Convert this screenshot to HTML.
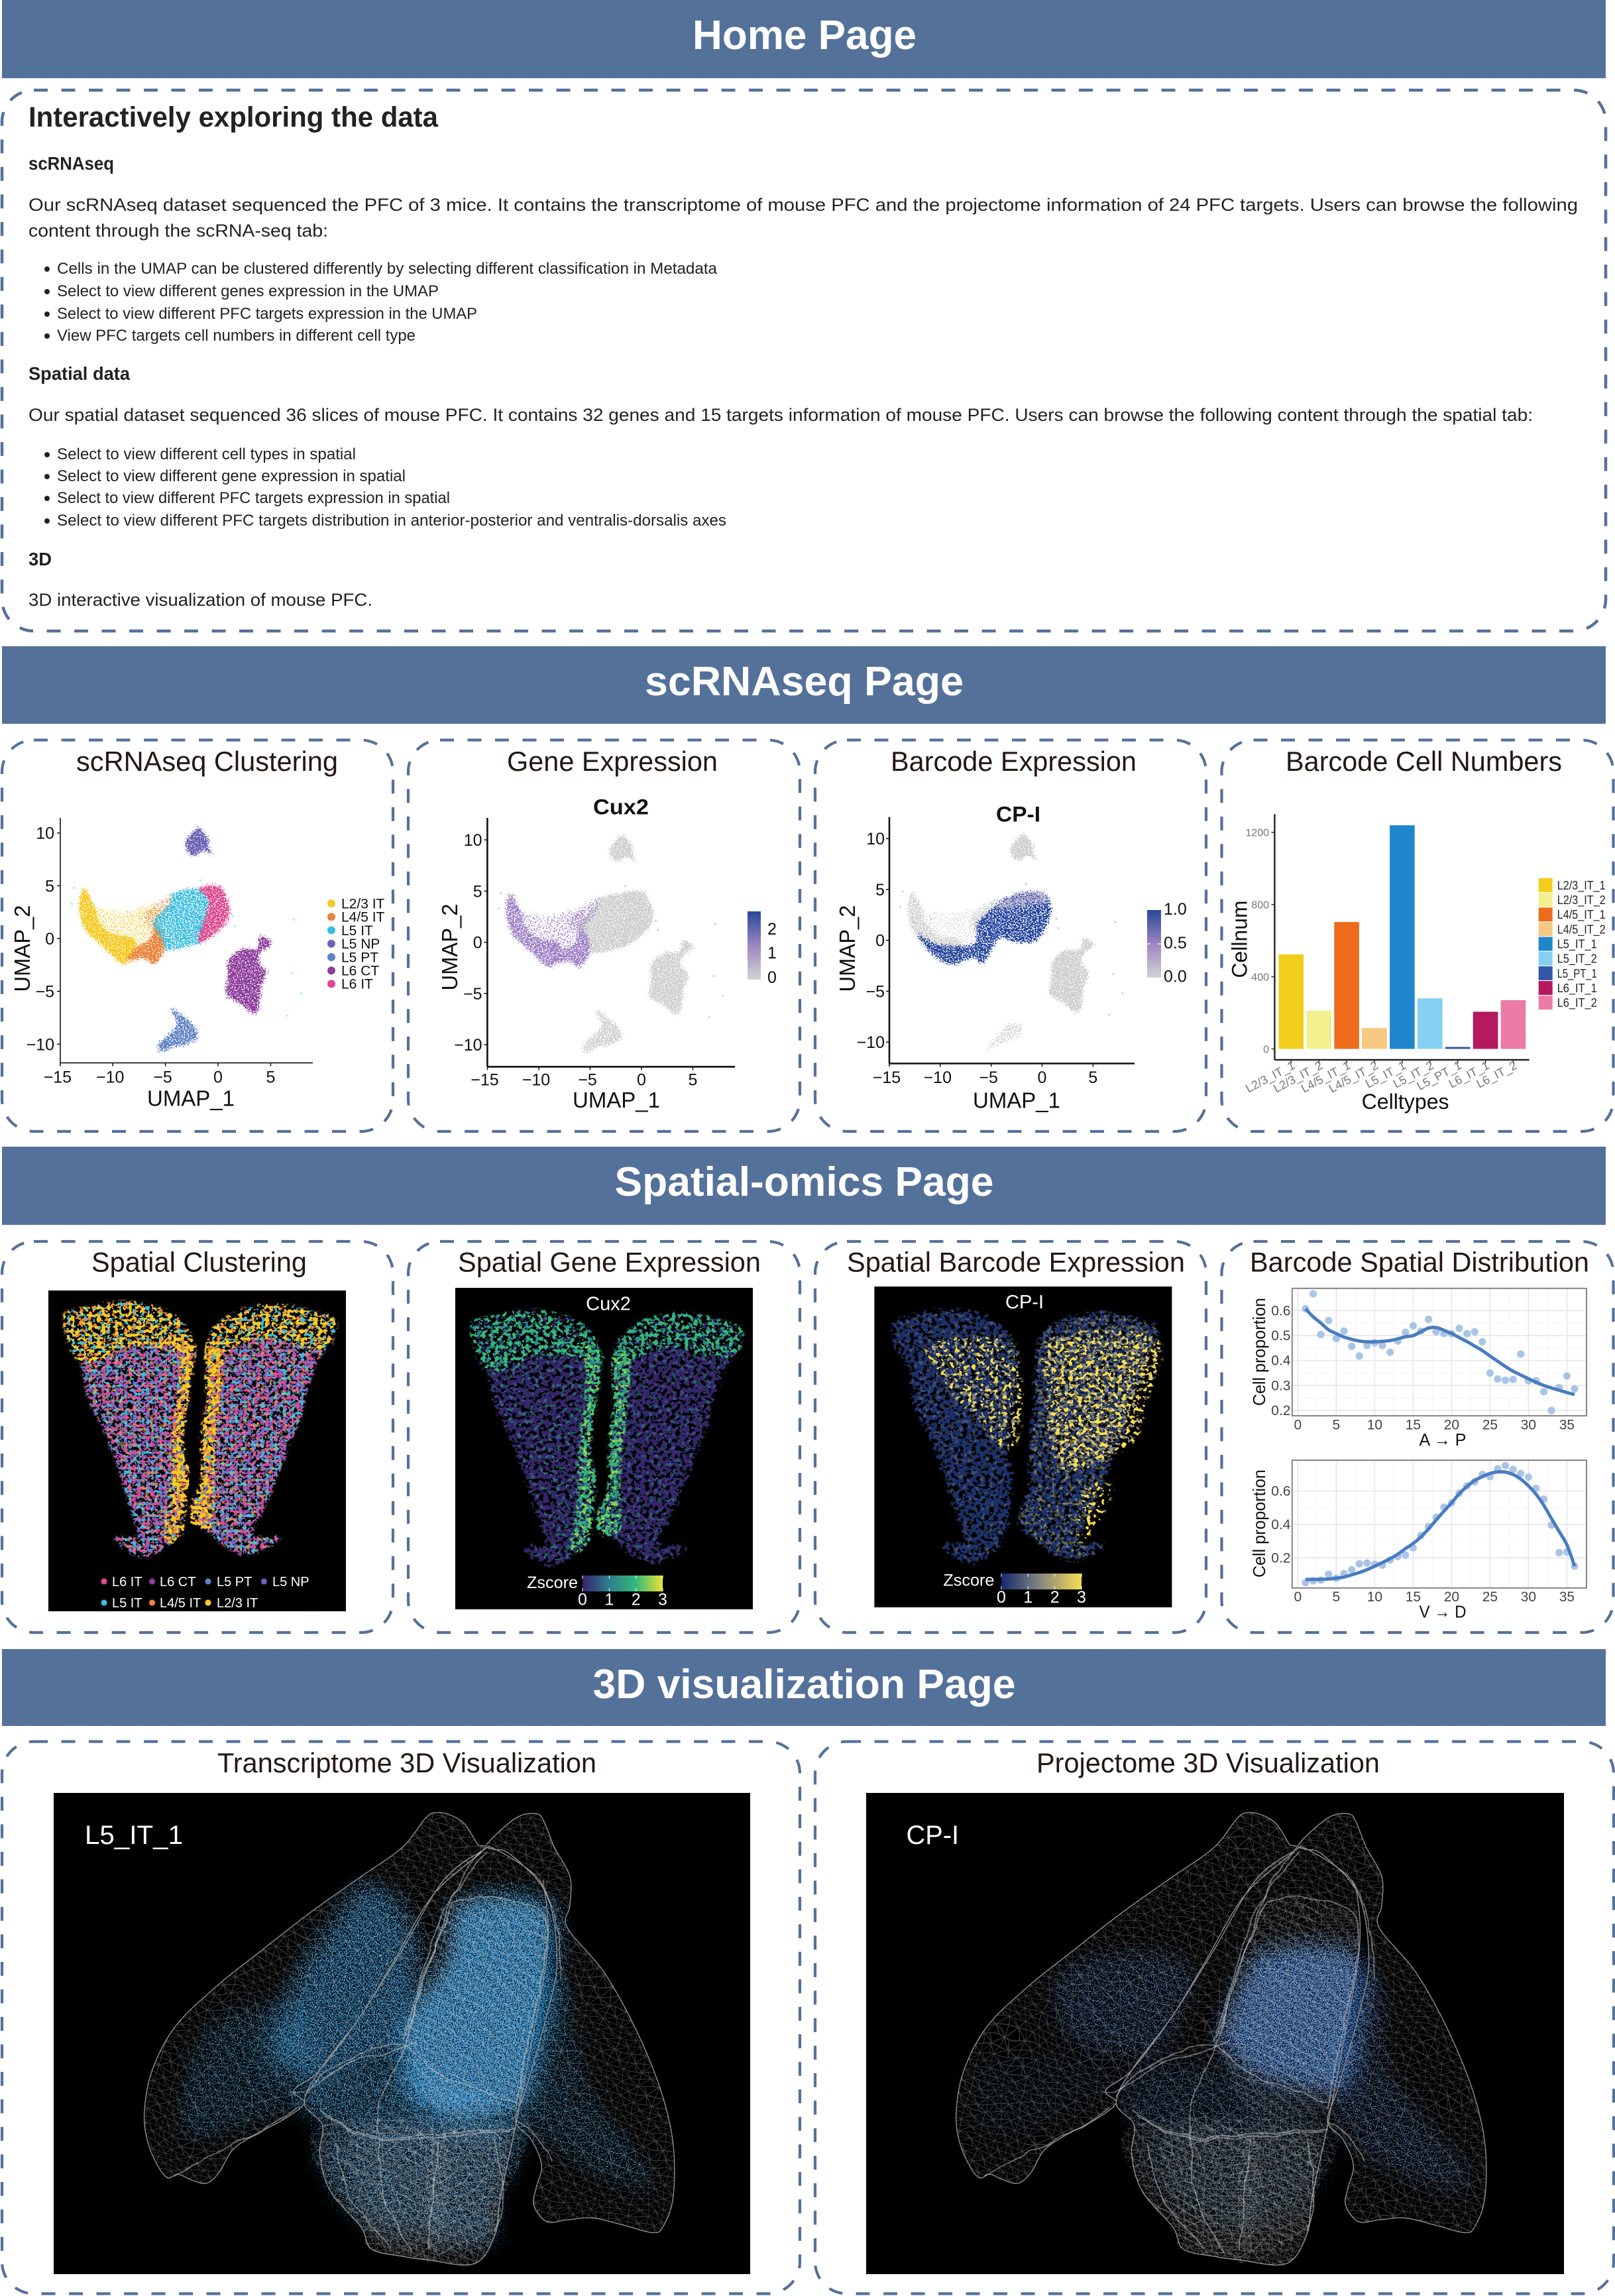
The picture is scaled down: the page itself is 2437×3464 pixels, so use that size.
<!DOCTYPE html>
<html lang="en"><head><meta charset="utf-8"><title>PFC data portal overview</title>
<style>
html,body{margin:0;padding:0;background:#fff}
svg{display:block;font-family:"Liberation Sans",sans-serif}
</style></head>
<body>
<svg id="fig" xmlns="http://www.w3.org/2000/svg" width="2437" height="3464" viewBox="0 0 2437 3464">
<defs id="defs">
<linearGradient id="cbGene" x1="0" y1="1" x2="0" y2="0"><stop offset="0" stop-color="#d3d3d3"/><stop offset=".5" stop-color="#9d86c0"/><stop offset="1" stop-color="#27479c"/></linearGradient>
<linearGradient id="cbViridis" x1="0" x2="1" y1="0" y2="0"><stop offset="0" stop-color="#3b1f6e"/><stop offset=".33" stop-color="#2b7f8e"/><stop offset=".66" stop-color="#35b779"/><stop offset="1" stop-color="#e8e337"/></linearGradient>
<linearGradient id="cbCividis" x1="0" x2="1" y1="0" y2="0"><stop offset="0" stop-color="#12286e"/><stop offset=".5" stop-color="#8a8a80"/><stop offset="1" stop-color="#f5dc50"/></linearGradient>
<filter id="soft" x="-30%" y="-30%" width="160%" height="160%"><feGaussianBlur stdDeviation="16"/></filter>
<filter id="warp" x="-5%" y="-5%" width="110%" height="110%" color-interpolation-filters="sRGB"><feTurbulence type="fractalNoise" baseFrequency="0.012" numOctaves="2" seed="7" result="w"/><feDisplacementMap in="SourceGraphic" in2="w" scale="38" xChannelSelector="R" yChannelSelector="G"/></filter>
<filter id="wobble" x="-10%" y="-10%" width="120%" height="120%" color-interpolation-filters="sRGB"><feTurbulence type="fractalNoise" baseFrequency="0.03" numOctaves="2" seed="4" result="w"/><feDisplacementMap in="SourceGraphic" in2="w" scale="9" xChannelSelector="R" yChannelSelector="G"/></filter>
<pattern id="mesh" width="26" height="22" patternUnits="userSpaceOnUse" patternTransform="rotate(14)">
<path d="M0 0H26M0 11H26M0 22H26M0 0L13 11L26 0M0 22L13 11L26 22M0 0V22M26 0V22M13 11L19 22M13 11L7 0" fill="none" stroke="#fff" stroke-opacity=".24" stroke-width=".9"/></pattern>
</defs>

<g>
<rect x="3" y="0" width="2420" height="118" fill="#54719a"/>
<text x="1214" y="74" font-size="62" font-weight="700" fill="#fff" text-anchor="middle" textLength="338" lengthAdjust="spacingAndGlyphs">Home Page</text></g>
<rect x="3" y="136" width="2420" height="816" rx="48" fill="none" stroke="#54719a" stroke-width="4.5" stroke-dasharray="21 20.5"/>
<g fill="#222">
<text x="43" y="191" font-size="43" font-weight="700" textLength="618" lengthAdjust="spacingAndGlyphs">Interactively exploring the data</text>
<text x="43" y="256" font-size="28" font-weight="700" textLength="129" lengthAdjust="spacingAndGlyphs">scRNAseq</text>
<text x="43" y="318" font-size="27" textLength="2338" lengthAdjust="spacingAndGlyphs">Our scRNAseq dataset sequenced the PFC of 3 mice. It contains the transcriptome of mouse PFC and the projectome information of 24 PFC targets. Users can browse the following</text>
<text x="43" y="357" font-size="27" textLength="452" lengthAdjust="spacingAndGlyphs">content through the scRNA-seq tab:</text>
<circle cx="71" cy="406" r="4"/><text x="86" y="413" font-size="24" textLength="996" lengthAdjust="spacingAndGlyphs">Cells in the UMAP can be clustered differently by selecting different classification in Metadata</text>
<circle cx="71" cy="440" r="4"/><text x="86" y="447" font-size="24" textLength="576" lengthAdjust="spacingAndGlyphs">Select to view different genes expression in the UMAP</text>
<circle cx="71" cy="474" r="4"/><text x="86" y="481" font-size="24" textLength="634" lengthAdjust="spacingAndGlyphs">Select to view different PFC targets expression in the UMAP</text>
<circle cx="71" cy="507" r="4"/><text x="86" y="514" font-size="24" textLength="541" lengthAdjust="spacingAndGlyphs">View PFC targets cell numbers in different cell type</text>
<text x="43" y="573" font-size="28" font-weight="700" textLength="153" lengthAdjust="spacingAndGlyphs">Spatial data</text>
<text x="43" y="635" font-size="27" textLength="2270" lengthAdjust="spacingAndGlyphs">Our spatial dataset sequenced 36 slices of mouse PFC. It contains 32 genes and 15 targets information of mouse PFC. Users can browse the following content through the spatial tab:</text>
<circle cx="71" cy="686" r="4"/><text x="86" y="693" font-size="24" textLength="451" lengthAdjust="spacingAndGlyphs">Select to view different cell types in spatial</text>
<circle cx="71" cy="719" r="4"/><text x="86" y="726" font-size="24" textLength="526" lengthAdjust="spacingAndGlyphs">Select to view different gene expression in spatial</text>
<circle cx="71" cy="752" r="4"/><text x="86" y="759" font-size="24" textLength="593" lengthAdjust="spacingAndGlyphs">Select to view different PFC targets expression in spatial</text>
<circle cx="71" cy="786" r="4"/><text x="86" y="793" font-size="24" textLength="1010" lengthAdjust="spacingAndGlyphs">Select to view different PFC targets distribution in anterior-posterior and ventralis-dorsalis axes</text>
<text x="43" y="853" font-size="28" font-weight="700" textLength="35" lengthAdjust="spacingAndGlyphs">3D</text>
<text x="43" y="914" font-size="27" textLength="519" lengthAdjust="spacingAndGlyphs">3D interactive visualization of mouse PFC.</text>
</g>

<rect x="3" y="975" width="2420" height="117" fill="#54719a"/>
<text x="1213.5" y="1049" font-size="62" font-weight="700" fill="#fff" text-anchor="middle" textLength="481" lengthAdjust="spacingAndGlyphs">scRNAseq Page</text>
<rect x="3" y="1730" width="2420" height="118" fill="#54719a"/>
<text x="1213.5" y="1804" font-size="62" font-weight="700" fill="#fff" text-anchor="middle" textLength="572" lengthAdjust="spacingAndGlyphs">Spatial-omics Page</text>
<rect x="3" y="2488" width="2420" height="116" fill="#54719a"/>
<text x="1213.5" y="2562" font-size="62" font-weight="700" fill="#fff" text-anchor="middle" textLength="638" lengthAdjust="spacingAndGlyphs">3D visualization Page</text>

<g fill="none" stroke="#54719a" stroke-width="4.2" stroke-dasharray="21 20.5">
<rect x="3" y="1116.5" width="590" height="590.5" rx="48"/>
<rect x="616" y="1116.5" width="591" height="590.5" rx="48"/>
<rect x="1230" y="1116.5" width="590" height="590.5" rx="48"/>
<rect x="1843.5" y="1116.5" width="591" height="590.5" rx="48"/>
<rect x="3" y="1873" width="590" height="590" rx="48"/>
<rect x="616" y="1873" width="591" height="590" rx="48"/>
<rect x="1230" y="1873" width="590" height="590" rx="48"/>
<rect x="1843.5" y="1873" width="591" height="590" rx="48"/>
<rect x="3" y="2627.5" width="1204" height="833" rx="48"/>
<rect x="1230" y="2627.5" width="1205" height="833" rx="48"/>
</g>

<g fill="#231815" font-size="42">
<text x="115" y="1163" textLength="395" lengthAdjust="spacingAndGlyphs">scRNAseq Clustering</text>
<text x="765" y="1163" textLength="318" lengthAdjust="spacingAndGlyphs">Gene Expression</text>
<text x="1344" y="1163" textLength="371" lengthAdjust="spacingAndGlyphs">Barcode Expression</text>
<text x="1940" y="1163" textLength="417" lengthAdjust="spacingAndGlyphs">Barcode Cell Numbers</text>
<text x="138" y="1918.5" textLength="325" lengthAdjust="spacingAndGlyphs">Spatial Clustering</text>
<text x="691" y="1918.5" textLength="457" lengthAdjust="spacingAndGlyphs">Spatial Gene Expression</text>
<text x="1278" y="1918.5" textLength="510" lengthAdjust="spacingAndGlyphs">Spatial Barcode Expression</text>
<text x="1886" y="1918.5" textLength="512" lengthAdjust="spacingAndGlyphs">Barcode Spatial Distribution</text>
<text x="328" y="2674" textLength="572" lengthAdjust="spacingAndGlyphs">Transcriptome 3D Visualization</text>
<text x="1564" y="2674" textLength="518" lengthAdjust="spacingAndGlyphs">Projectome 3D Visualization</text>
</g>
<g id="charts"></g>
</svg>
<script>
/* ---------- UMAP tick labels ---------- */
const umapTicksX = [-15, -10, -5, 0, 5];
const umapTicksY = [-10, -5, 0, 5, 10];
/* ---------- UMAP cluster outlines (UMAP_1, UMAP_2) ---------- */
const l23Dense = [[-12.75,4.8],[-11.67,2.9],[-11.4,1.85],[-10.2,.55],[-8,0],[-7.9,-1.3],[-9,-2.45],[-11,-.75],[-12.6,.8],[-13.2,2.9]];
const l23Sparse = [[-11.67,2.9],[-9,2.6],[-6,3.15],[-5.5,1.3],[-6.5,.3],[-7.9,-1.3],[-10.2,.55],[-11.4,1.85]];
const l45Dense = [[-6,1.2],[-5.2,.55],[-5.05,-1],[-6,-2.45],[-7,-1.95],[-8.7,-2],[-7.6,-.75],[-6.5,0]];
const l45Sparse = [[-7,2.35],[-4.55,4.15],[-4.3,3.15],[-6,1.07],[-6.75,1.3]];
const l5it = [[-4.3,4.3],[-1.86,4.76],[-.8,3.4],[-1.5,.3],[-1.8,-.45],[-4.8,-1.1],[-5.3,-.2],[-6.1,1.07],[-6.1,1.85],[-4.6,3.4]];
const l6it = [[-1.86,4.76],[.1,5],[.8,3.9],[1.18,2.6],[.45,1.07],[-1.6,-.4],[-1.86,.3],[-.9,3.4]];
const l5np = [[-1.86,10.5],[-.9,9.4],[-.9,8.75],[-.55,7.9],[-1.4,8.3],[-2.35,7.8],[-2.95,8.35],[-3.1,9.15],[-2.5,9.9]];
const l5pt = [[-4.35,-6.6],[-3.2,-7.4],[-2.25,-8.3],[-1.9,-9.35],[-3.1,-10.1],[-4,-10.2],[-5.5,-10.8],[-5.6,-9.9],[-4.4,-8.8],[-3.9,-8.05],[-4.3,-7.15]];
const l6ct = [[5.1,-.45],[4,.25],[3.7,-.9],[2.3,-.97],[1,-2.05],[.9,-3.9],[.75,-5.3],[2,-6.1],[3.3,-7.1],[3.9,-6.5],[4.1,-4.65],[4.6,-3.2],[3.9,-2.3],[4.1,-1.3]];
const strayCells = [[-13.7,4.8],[-1.6,5.5],[1.4,2.1],[1.6,1.2],[7.2,1.8],[7,-3.3],[7.9,-5.2],[6.6,-7.3],[-10.9,2.1],[-13.9,3.3]];
const cpiDense = [[-12.3,.73],[-10.3,-.35],[-6.8,-.35],[-6.3,1.8],[-4.2,3.7],[-2.7,4.5],[0,4.65],[.9,2.9],[-.45,.05],[-2.7,-.2],[-4.2,.2],[-5.75,-2.25],[-6.8,-1.7],[-8.8,-2.4],[-10.8,-1.4]];
const cpiFaint = [[-4.6,3.4],[-2.7,4.5],[0,4.85],[.6,3.7],[-1,3.6],[-3,3.1]];
const l5ptFaint = [[-3.5,-8.3],[-2.2,-8.2],[-2,-9.3],[-3.6,-10],[-5.4,-10.7],[-4.6,-9.6]];
/* ---------- UMAP legend ---------- */
const clusterNames = ['L2/3 IT','L4/5 IT','L5 IT','L5 NP','L5 PT','L6 CT','L6 IT'];
const clusterColors = ['#f5ca24','#ec843c','#38bde0','#6b63b5','#5f80c4','#8e3f9b','#e0488f'];
/* ---------- Barcode cell number bars ---------- */
const barCategories = ['L2/3_IT_1','L2/3_IT_2','L4/5_IT_1','L4/5_IT_2','L5_IT_1','L5_IT_2','L5_PT_1','L6_IT_1','L6_IT_2'];
const barValues = [524,212,703,116,1239,280,11,206,270];
const barColors = ['#f2ce1c','#f3f08f','#ee6b1c','#f7c882','#2086cc','#84cff2','#3357a8','#b51a5e','#ec7ba6'];
const barTicks = [0,400,800,1200];
/* ---------- Spatial distribution, slices 1..36 ---------- */
const sliceTicks = [0,5,10,15,20,25,30,35];
const apTicks = [.2,.3,.4,.5,.6];
const vdTicks = [.2,.4,.6];
const apPoints = [.607,.667,.504,.56,.488,.518,.457,.418,.46,.471,.46,.433,.478,.513,.539,.518,.565,.515,.508,.508,.529,.508,.515,.475,.35,.326,.321,.324,.426,.319,.319,.275,.2,.292,.338,.287];
const apCurve = [.607,.575,.55,.523,.508,.494,.485,.478,.475,.475,.477,.48,.487,.495,.5,.515,.53,.532,.521,.508,.492,.476,.458,.44,.418,.397,.376,.357,.342,.327,.313,.3,.29,.281,.272,.264];
const vdPoints = [.051,.062,.067,.101,.078,.106,.129,.164,.169,.161,.156,.187,.208,.216,.26,.333,.388,.443,.503,.529,.587,.631,.655,.699,.686,.733,.752,.729,.705,.683,.616,.551,.396,.231,.235,.15];
const vdCurve = [.07,.071,.071,.073,.078,.085,.098,.112,.129,.15,.172,.195,.222,.255,.286,.325,.373,.427,.479,.529,.584,.627,.663,.686,.705,.714,.713,.699,.671,.631,.58,.514,.435,.357,.278,.15];
/* ---------- Tissue slice regions, in slice coordinates ---------- */
const wingLeft = [[130,330],[160,295],[245,270],[310,295],[350,350],[368,420],[368,530],[360,650],[350,800],[360,900],[355,1030],[345,1140],[310,1210],[280,1235],[250,1210],[225,1165],[270,1160],[265,1110],[235,930],[205,760],[175,640],[165,560],[160,490],[135,400]];
const wingRight = [[415,380],[440,330],[480,295],[540,280],[610,310],[645,345],[630,430],[610,510],[590,620],[585,690],[560,800],[550,860],[520,1010],[495,1110],[490,1160],[540,1165],[510,1205],[470,1225],[435,1190],[420,1165],[380,1100],[375,1040],[395,950],[395,800],[400,700],[405,640],[405,500]];
const interiorLeft = [[160,490],[200,480],[250,430],[368,440],[368,530],[360,650],[350,800],[360,900],[355,1030],[345,1140],[310,1210],[280,1235],[250,1210],[225,1165],[270,1160],[265,1110],[235,930],[205,760],[175,640],[165,560]];
const interiorRight = [[405,470],[440,450],[500,400],[600,440],[630,430],[610,510],[590,620],[585,690],[560,800],[550,860],[520,1010],[495,1110],[490,1160],[540,1165],[510,1205],[470,1225],[435,1190],[420,1165],[380,1100],[375,1040],[395,950],[395,800],[400,700],[405,640]];
const topBandLeft = [[125,325],[160,290],[245,265],[310,290],[355,345],[372,420],[372,450],[250,430],[200,490],[150,480]];
const topBandRight = [[410,380],[440,325],[480,290],[540,275],[610,305],[650,340],[635,440],[600,440],[500,400],[440,450],[402,480]];
const medialLeft = [[340,400],[372,420],[372,530],[364,650],[354,800],[364,900],[359,1030],[350,1150],[320,1170],[332,1000],[335,800],[344,650],[350,500]];
const medialRight = [[402,440],[430,450],[425,640],[415,800],[412,950],[410,1110],[376,1110],[372,1040],[392,950],[392,800],[397,700],[402,640]];
const exprLeft = [[200,400],[360,400],[378,700],[350,800],[300,700],[230,550]];
const exprRight = [[440,380],[640,380],[620,620],[590,780],[480,880],[440,800],[430,600]];
const exprLow = [[500,950],[555,950],[520,1100],[490,1150]];
/* ---------- Spatial legend ---------- */
const spatialLegendNames = ['L6 IT','L6 CT','L5 PT','L5 NP','L5 IT','L4/5 IT','L2/3 IT'];
const spatialLegendColors = ['#e0488f','#8e3f9b','#5f80c4','#6b63b5','#38bde0','#ec843c','#f5ca24'];
const zscoreTicks = [0,1,2,3];
/* ---------- 3D mesh outlines and cell clouds, in view coordinates ---------- */
const lobeLeft = [[825,260],[845,245],[870,250],[900,275],[925,330],[935,350],[840,470],[760,660],[700,800],[620,950],[570,1005],[590,1040],[550,1085],[490,1130],[450,1170],[425,1230],[400,1260],[370,1250],[345,1235],[325,1245],[305,1210],[285,1140],[280,1060],[295,950],[340,830],[420,720],[500,630],[600,520],[700,420],[780,340]];
const lobeRight = [[1000,260],[1040,248],[1055,270],[1075,340],[1105,420],[1105,500],[1100,560],[1170,680],[1230,830],[1280,1000],[1305,1150],[1305,1300],[1285,1380],[1265,1395],[1210,1375],[1150,1355],[1100,1360],[1060,1365],[1035,1320],[1040,1270],[1050,1210],[1030,1140],[1000,1090],[1020,1000],[1060,800],[1080,650],[1060,470],[990,360],[955,345],[945,330]];
const lobeCenter = [[935,350],[960,345],[1040,420],[1060,500],[1060,640],[1030,880],[1000,1100],[970,1300],[960,1400],[920,1480],[830,1470],[780,1460],[720,1440],[700,1380],[640,1280],[620,1180],[625,1100],[590,1040],[620,950],[700,800],[780,620],[860,430]];
const lobeInner = [[880,490],[950,475],[1040,510],[1060,570],[1050,700],[1020,900],[1000,1060],[850,1060],[790,860],[820,700]];
const lobeBottom = [[625,1100],[1000,1100],[975,1300],[960,1400],[920,1480],[830,1470],[720,1440],[700,1380],[640,1280]];
const lobeBottomLeft = [[680,1130],[860,1140],[850,1450],[800,1460],[720,1400]];
const lobeBottomRight = [[840,1140],[970,1130],[975,1300],[950,1400],[840,1440]];
const creases = [
 [[560,1008],[600,1000],[680,930],[760,900],[810,870]],
 [[620,1060],[680,1110],[750,1135],[850,1125],[1000,1110]],
 [[630,1075],[690,1120],[750,1140],[860,1132],[990,1115]],
 [[590,1020],[640,950],[770,880],[850,960],[1000,1040]],
 [[335,1240],[430,1170],[540,1090],[580,1050]],
 [[1050,430],[1080,550],[1090,700]],
 [[935,350],[880,470],[800,800],[785,860]],
 [[945,350],[860,520],[800,780],[780,870]],
 [[880,490],[950,475],[1040,510],[1060,570],[1050,700],[1020,900],[1000,1060]],
 [[880,490],[820,700],[790,860],[770,930],[735,1040],[735,1130]],
 [[735,1130],[745,1300],[800,1450]],
 [[850,1140],[830,1440]],
 [[960,1140],[975,1300],[960,1390]],
 [[650,1150],[680,1300],[760,1440]],
 [[1000,1090],[1040,1130],[1070,1200]]
];
const transcriptomeClouds = [
 {pts:[[890,490],[1060,490],[1075,700],[1050,900],[1010,1060],[840,1070],[770,950],[790,800],[860,650]], density:.62},
 {pts:[[710,440],[800,540],[810,780],[780,890],[610,960],[520,910],[570,700],[640,550]], density:.42},
 {pts:[[410,830],[560,770],[620,950],[600,1030],[380,1130],[350,1050]], density:.18},
 {pts:[[640,1130],[990,1120],[965,1300],[945,1430],[800,1400],[710,1370],[650,1280]], density:.3},
 {pts:[[1040,700],[1100,720],[1140,1000],[1270,1250],[1170,1240],[1050,1130],[1010,1000]], density:.17},
 {pts:[[620,950],[800,950],[1000,1080],[1000,1130],[620,1100]], density:.34}
];
const projectomeClouds = [
 {pts:[[875,620],[1060,630],[1062,860],[1022,1010],[862,970],[792,870],[822,740]], density:.52},
 {pts:[[490,670],[690,630],[735,720],[660,910],[500,860]], density:.18},
 {pts:[[1052,680],[1112,760],[1122,950],[1282,1260],[1132,1230],[1012,1070]], density:.14},
 {pts:[[640,1130],[985,1130],[965,1310],[812,1390],[690,1300]], density:.1},
 {pts:[[630,950],[800,950],[1000,1100],[640,1110]], density:.13},
 {pts:[[300,950],[500,900],[600,1000],[350,1130]], density:.05}
];

const NS = 'http://www.w3.org/2000/svg';
const defs = document.getElementById('defs');
const charts = document.getElementById('charts');
const MINUS = '\u2212';

function node(tag, attrs, parent) {
  const e = document.createElementNS(NS, tag);
  for (const k in attrs) e.setAttribute(k, attrs[k]);
  (parent || charts).appendChild(e);
  return e;
}
function drawText(parent, str, x, y, size, name, o) {
  o = o || {};
  const t = node('text', {x: x, y: y, 'font-size': size, fill: o.fill || '#111'}, parent);
  
  
  if (o.anchor) t.setAttribute('text-anchor', o.anchor);
  if (o.weight) t.setAttribute('font-weight', o.weight);
  if (o.len) { t.setAttribute('textLength', o.len); t.setAttribute('lengthAdjust', 'spacingAndGlyphs'); }
  if (o.rot !== undefined) t.setAttribute('transform', 'rotate(' + o.rot + ' ' + x + ' ' + y + ')');
  t.textContent = str;
  return t;
}
function drawLine(parent, x1, y1, x2, y2, color, w, name) {
  const l = node('line', {x1: x1, y1: y1, x2: x2, y2: y2, stroke: color, 'stroke-width': w}, parent);
  
  
  return l;
}
function group(name, parent) {
  const g = node('g', {}, parent);
  
  
  return g;
}
function fmt(v) { return (v < 0 ? MINUS + Math.abs(v) : String(v)); }

/* Point-cloud texture: a region's alpha (its density) is combined with
   turbulence noise and thresholded, so a denser region shows more points. */
let filterCount = 0;
function scatter(color, blur, freq) {
  const id = 'sc' + (filterCount++);
  const coarse = freq < .3;
  const f = node('filter', {id: id, x: '-25%', y: '-25%', width: '150%', height: '150%', 'color-interpolation-filters': 'sRGB'}, defs);
  node('feGaussianBlur', {in: 'SourceAlpha', stdDeviation: blur, result: 'a'}, f);
  node('feTurbulence', {type: 'fractalNoise', baseFrequency: freq + ' ' + (freq * 1.13).toFixed(3), numOctaves: coarse ? 2 : 1, seed: 3 + filterCount * 7, result: 't'}, f);
  node('feColorMatrix', {in: 't', type: 'matrix', values: coarse ? '0 0 0 0 0  0 0 0 0 0  0 0 0 0 0  3.6 0 0 0 -1.3' : '0 0 0 0 0  0 0 0 0 0  0 0 0 0 0  3 0 0 0 -1', result: 'n'}, f);
  node('feComposite', {in: 'a', in2: 'n', operator: 'arithmetic', k1: 0, k2: 1, k3: 1, k4: -1, result: 's'}, f);
  const ct = node('feComponentTransfer', {in: 's', result: 'm'}, f);
  node('feFuncA', {type: 'linear', slope: 9, intercept: 0}, ct);
  node('feFlood', {'flood-color': color, result: 'c'}, f);
  node('feComposite', {in: 'c', in2: 'm', operator: 'in'}, f);
  return 'url(#' + id + ')';
}
function smoothPath(pts, fx, fy, closed) {
  const P = pts.map(function (p) { return [fx(p[0]), fy(p[1])]; });
  const n = P.length;
  const at = function (i) { return closed ? P[(i + n) % n] : P[Math.max(0, Math.min(n - 1, i))]; };
  let d = 'M' + P[0][0].toFixed(1) + ' ' + P[0][1].toFixed(1);
  const last = closed ? n : n - 1;
  for (let i = 0; i < last; i++) {
    const a = at(i - 1), b = at(i), c = at(i + 1), e = at(i + 2);
    d += 'C' + (b[0] + (c[0] - a[0]) / 6).toFixed(1) + ' ' + (b[1] + (c[1] - a[1]) / 6).toFixed(1) + ' ' +
      (c[0] - (e[0] - b[0]) / 6).toFixed(1) + ' ' + (c[1] - (e[1] - b[1]) / 6).toFixed(1) + ' ' +
      c[0].toFixed(1) + ' ' + c[1].toFixed(1);
  }
  return d + (closed ? 'Z' : '');
}

/* ------------------- UMAP panels ------------------- */
function cloud(g, pts, fx, fy, color, density, name, blur, freq) {
  const r = node('path', {d: smoothPath(pts, fx, fy, true), fill: color, 'fill-opacity': density, filter: scatter(color, blur || 2.2, freq || .5)}, g);
  
  
}
function umapAxes(g, c) {
  drawLine(g, c.left, c.top, c.left, c.bottom, '#111', c.axisW, 'y-axis-line');
  drawLine(g, c.left, c.bottom, c.right, c.bottom, '#111', c.axisW, 'x-axis-line');
  umapTicksX.forEach(function (u) {
    drawLine(g, c.x(u), c.bottom, c.x(u), c.bottom + 5, '#111', 1.5, 'x-tick');
    drawText(g, fmt(u), c.x(u) - (u < 0 ? 4 : 0), c.xLabelY, 25, 'x-tick-label', {anchor: 'middle'});
  });
  umapTicksY.forEach(function (v) {
    drawLine(g, c.left - 5, c.y(v), c.left, c.y(v), '#111', 1.5, 'y-tick');
    drawText(g, fmt(v), c.yLabelX, c.y(v) + 9, 25, 'y-tick-label', {anchor: 'end'});
  });
  drawText(g, 'UMAP_1', c.xTitleX, c.xTitleY, 33, 'x-axis-title', {anchor: 'middle', len: 132});
  drawText(g, 'UMAP_2', c.yTitleX, c.yTitleY, 33, 'y-axis-title', {anchor: 'middle', rot: -90, len: 131});
}
function strays(g, fx, fy, color) {
  strayCells.forEach(function (p) {
    const s = node('circle', {cx: fx(p[0]), cy: fy(p[1]), r: 1.5, fill: color}, g);
    
    
  });
}

/* panel 1 */
(function () {
  const x = function (u) { return 329 + 15.88 * u; }, y = function (v) { return 1416 - 15.93 * v; };
  const g = group('scrnaseq-clustering-umap');
  cloud(g, l23Sparse, x, y, clusterColors[0], .32, 'cluster-l23-sparse');
  cloud(g, l45Sparse, x, y, clusterColors[1], .4, 'cluster-l45-sparse');
  cloud(g, l23Dense, x, y, clusterColors[0], .88, 'cluster-l23');
  cloud(g, l45Dense, x, y, clusterColors[1], .88, 'cluster-l45');
  cloud(g, l5it, x, y, clusterColors[2], .72, 'cluster-l5-it');
  cloud(g, l6it, x, y, clusterColors[6], .82, 'cluster-l6-it');
  cloud(g, l5np, x, y, clusterColors[3], .95, 'cluster-l5-np');
  cloud(g, l5pt, x, y, clusterColors[4], .78, 'cluster-l5-pt');
  cloud(g, l6ct, x, y, clusterColors[5], .85, 'cluster-l6-ct');
  strays(g, x, y, '#7fb');
  umapAxes(g, {x: x, y: y, left: 91, right: 472, top: 1234, bottom: 1603.6, axisW: 1.6, xLabelY: 1633.5, yLabelX: 82, xTitleX: 288, xTitleY: 1668.7, yTitleX: 45, yTitleY: 1431});
  const legendY = [1363, 1383.2, 1403.5, 1423.7, 1444, 1464.2, 1484.2];
  clusterNames.forEach(function (n, i) {
    const d = node('circle', {cx: 500, cy: legendY[i], r: 6, fill: clusterColors[i]}, g);
    
    
    drawText(g, n, 515, legendY[i] + 7.5, 21, 'legend-label');
  });
})();

/* panel 2 */
(function () {
  const x = function (u) { return 968 + 15.5 * u; }, y = function (v) { return 1421.6 - 15.45 * v; };
  const g = group('gene-expression-umap');
  const grey = '#d0d0d0', pur = '#9c7fc4';
  cloud(g, l5it, x, y, grey, .85, 'grey-cells');
  cloud(g, l6it, x, y, grey, .9, 'grey-cells');
  cloud(g, l5np, x, y, grey, .9, 'grey-cells');
  cloud(g, l6ct, x, y, grey, .85, 'grey-cells');
  cloud(g, l5pt, x, y, grey, .75, 'grey-cells');
  cloud(g, l23Sparse, x, y, pur, .32, 'cux2-cells-sparse');
  cloud(g, l45Sparse, x, y, pur, .42, 'cux2-cells-sparse');
  cloud(g, l23Dense, x, y, pur, .75, 'cux2-cells');
  cloud(g, l45Dense, x, y, pur, .78, 'cux2-cells');
  strays(g, x, y, '#ccc');
  umapAxes(g, {x: x, y: y, left: 735.4, right: 1109, top: 1234, bottom: 1609.4, axisW: 2.6, xLabelY: 1637.6, yLabelX: 727.6, xTitleX: 930, xTitleY: 1671, yTitleX: 690, yTitleY: 1429});
  drawText(g, 'Cux2', 937, 1228.4, 32, 'umap-gene-title', {anchor: 'middle', weight: 700, len: 84});
  const cb = node('rect', {x: 1128, y: 1375, width: 20, height: 103, fill: 'url(#cbGene)'}, g);
  
  
  [['2', 1401], ['1', 1437], ['0', 1474]].forEach(function (t) {
    drawText(g, t[0], 1158, t[1] + 9, 25, 'colorbar-label');
  });
})();

/* panel 3 */
(function () {
  const x = function (u) { return 1572.5 + 15.37 * u; }, y = function (v) { return 1418.7 - 15.35 * v; };
  const g = group('barcode-expression-umap');
  const grey = '#d0d0d0', blue = '#1f409c';
  cloud(g, l6ct, x, y, grey, .88, 'grey-cells');
  cloud(g, l5np, x, y, grey, .92, 'grey-cells');
  cloud(g, l5ptFaint, x, y, grey, .5, 'grey-cells');
  cloud(g, l23Sparse, x, y, grey, .25, 'grey-cells');
  cloud(g, l45Sparse, x, y, grey, .55, 'grey-cells');
  cloud(g, l23Dense, x, y, grey, .7, 'grey-cells');
  cloud(g, cpiDense, x, y, blue, .72, 'cp-i-cells');
  cloud(g, cpiFaint, x, y, '#b8b0d0', .7, 'cp-i-faint-cells');
  strays(g, x, y, '#ccc');
  umapAxes(g, {x: x, y: y, left: 1342, right: 1712, top: 1232.6, bottom: 1604.5, axisW: 2.6, xLabelY: 1634, yLabelX: 1335, xTitleX: 1534, xTitleY: 1671.6, yTitleX: 1290, yTitleY: 1431});
  drawText(g, 'CP-I', 1536.5, 1239.6, 32, 'umap-barcode-title', {anchor: 'middle', weight: 700, len: 67});
  const cb = node('rect', {x: 1731, y: 1373, width: 21, height: 102, fill: 'url(#cbGene)'}, g);
  
  
  drawLine(g, 1731, 1424, 1736, 1424, '#fff', 1.2, 'colorbar-tick');
  drawLine(g, 1747, 1424, 1752, 1424, '#fff', 1.2, 'colorbar-tick');
  [['1.0', 1371], ['0.5', 1422], ['0.0', 1472.6]].forEach(function (t) {
    drawText(g, t[0], 1756, t[1] + 9, 25, 'colorbar-label');
  });
})();

/* bar chart */
(function () {
  const g = group('barcode-cell-numbers-chart');
  const bx = function (i) { return 1948.3 + 41.9 * i; };
  const by = function (v) { return 1582.5 - v * 0.2723; };
  barCategories.forEach(function (c, i) {
    const b = node('rect', {x: bx(i) - 18.8, y: by(barValues[i]), width: 37.6, height: by(0) - by(barValues[i]), fill: barColors[i]}, g);
    
    
    drawLine(g, bx(i), 1599, bx(i), 1604.5, '#333', 1.5, 'x-tick');
    drawText(g, c, bx(i) + 7, 1611, 18, 'x-tick-label', {anchor: 'end', rot: -28, fill: '#777'});
  });
  barTicks.forEach(function (v) {
    drawLine(g, 1918.5, by(v), 1923.4, by(v), '#333', 1.5, 'y-tick');
    drawText(g, String(v), 1915, by(v) + 6, 16, 'y-tick-label', {anchor: 'end', fill: '#777'});
  });
  drawLine(g, 1923.4, 1228.4, 1923.4, 1599, '#222', 2.4, 'y-axis-line');
  drawLine(g, 1923.4, 1599, 2307.7, 1599, '#222', 2.4, 'x-axis-line');
  drawText(g, 'Cellnum', 1881.5, 1417, 32, 'y-axis-title', {anchor: 'middle', rot: -90, len: 117});
  drawText(g, 'Celltypes', 2120.6, 1673, 32, 'x-axis-title', {anchor: 'middle', len: 132});
  barCategories.forEach(function (c, i) {
    const cy = 1335.4 + 22.16 * i;
    const s = node('rect', {x: 2321.7, y: cy - 10.5, width: 21, height: 21, fill: barColors[i]}, g);
    
    
    drawText(g, c, 2349.7, cy + 6.5, 18, 'legend-label', {len: c.length > 7 ? 73 : 60, fill: '#222'});
  });
})();

/* ------------------- tissue slices ------------------- */
function slicePanel(c) {
  const g = group(c.name);
  const bg = node('rect', {x: c.x, y: c.y, width: c.w, height: c.h, fill: '#000'}, g);
  
  
  const fx = function (s) { return c.x + (s - 94) / 1.285; };
  const fy = function (s) { return c.y + c.dy + (s - 220) / 2.529; };
  const inner = group(c.name + '-cells', g);
  c.layers.forEach(function (l) {
    cloud(inner, l[0], fx, fy, l[1], l[2], 'slice-cells', 3, .15);
  });
  return g;
}
(function () {
  const pu = '#9a49b0', bl = '#5f80c4', pk = '#e0488f', cy = '#38bde0', ye = '#f5ca24', or = '#ec843c';
  const g = slicePanel({name: 'spatial-clustering', x: 73, y: 1947, w: 449, h: 484, dy: 0, layers: [
    [interiorLeft, pu, .42], [interiorLeft, bl, .3], [interiorLeft, cy, .18], [interiorLeft, pk, .2], [interiorLeft, ye, .05],
    [interiorRight, pu, .44], [interiorRight, bl, .28], [interiorRight, cy, .18], [interiorRight, pk, .2], [interiorRight, ye, .05],
    [topBandLeft, or, .3], [topBandLeft, cy, .18], [topBandLeft, ye, .34],
    [topBandRight, or, .28], [topBandRight, cy, .18], [topBandRight, ye, .34],
    [medialLeft, or, .26], [medialLeft, ye, .56],
    [medialRight, or, .3], [medialRight, ye, .56]
  ]});
  const rows = [[157,169],[229.6,241],[314,327],[398.4,411],[157,169],[229.6,241],[314,327]];
  spatialLegendNames.forEach(function (n, i) {
    const yy = i < 4 ? 2386 : 2418;
    const d = node('circle', {cx: rows[i][0], cy: yy, r: 4.6, fill: spatialLegendColors[i]}, g);
    
    
    drawText(g, n, rows[i][1], yy + 7, 20, 'legend-label', {fill: '#fff'});
  });
})();
function zscoreBar(g, c) {
  const r = node('rect', {x: c.x, y: c.y, width: c.w, height: 24, fill: c.fill}, g);
  
  
  drawText(g, 'Zscore', c.titleX, c.titleY, 25, 'zscore-title', {fill: '#fff', len: 77});
  zscoreTicks.forEach(function (v) {
    const tx = c.x + c.w * v / 3;
    drawLine(g, tx, c.y, tx, c.y + 5, '#fff', 1, 'zscore-tick');
    drawLine(g, tx, c.y + 19, tx, c.y + 24, '#fff', 1, 'zscore-tick');
    drawText(g, String(v), tx, c.labelY, 25, 'zscore-label', {anchor: 'middle', fill: '#fff'});
  });
}
(function () {
  const d = '#35266a', te = '#2a8f8a', gr = '#35b779', li = '#8fd14f';
  const g = slicePanel({name: 'spatial-gene', x: 687, y: 1943, w: 449, h: 485, dy: 17, layers: [
    [interiorLeft, d, .72], [interiorLeft, te, .07],
    [interiorRight, d, .72], [interiorRight, te, .06],
    [topBandLeft, d, .22], [topBandLeft, te, .26], [topBandLeft, gr, .3],
    [topBandRight, d, .22], [topBandRight, te, .3], [topBandRight, gr, .28],
    [medialLeft, te, .38], [medialLeft, gr, .42], [medialLeft, li, .14],
    [medialRight, te, .4], [medialRight, gr, .44], [medialRight, li, .16]
  ]});
  drawText(g, 'Cux2', 918, 1976.6, 29, 'slice-gene-title', {anchor: 'middle', fill: '#fff'});
  zscoreBar(g, {x: 879, y: 2377, w: 121, fill: 'url(#cbViridis)', titleX: 795, titleY: 2396, labelY: 2421.5});
})();
(function () {
  const n = '#1c3068', ye = '#f5dc50', ge = '#8a8a80';
  const g = slicePanel({name: 'spatial-barcode', x: 1319.4, y: 1941, w: 449, h: 484, dy: 16, layers: [
    [wingLeft, n, .72], [wingLeft, ge, .04],
    [wingRight, n, .72], [wingRight, ge, .06], [wingRight, ye, .04],
    [exprLeft, ye, .18], [exprLeft, ge, .1],
    [exprRight, ye, .32], [exprRight, ge, .12],
    [exprLow, ye, .2]
  ]});
  drawText(g, 'CP-I', 1546, 1974, 29, 'slice-barcode-title', {anchor: 'middle', fill: '#fff'});
  zscoreBar(g, {x: 1511, y: 2374, w: 121, fill: 'url(#cbCividis)', titleX: 1423.4, titleY: 2392.6, labelY: 2418});
})();

/* ------------------- distribution plots ------------------- */
function distPlot(c) {
  const g = group(c.name);
  const sx = function (s) { return 1958.4 + 11.6 * s; };
  const fr = node('rect', {x: 1949.8, y: c.top, width: 444.2, height: c.bottom - c.top, fill: '#fff'}, g);
  
  
  sliceTicks.forEach(function (s) {
    drawLine(g, sx(s), c.top, sx(s), c.bottom, '#e8e8e8', 1.8, 'grid-x-major');
    drawLine(g, sx(s + 2.5), c.top, sx(s + 2.5), c.bottom, '#f3f3f3', 1, 'grid-x-minor');
    drawText(g, String(s), sx(s), c.labelY, 21, 'x-tick-label', {anchor: 'middle', fill: '#444'});
  });
  c.ticks.forEach(function (v, i) {
    drawLine(g, 1949.8, c.y(v), 2394, c.y(v), '#e8e8e8', 1.8, 'grid-y-major');
    if (i < c.ticks.length - 1) drawLine(g, 1949.8, c.y((v + c.ticks[i + 1]) / 2), 2394, c.y((v + c.ticks[i + 1]) / 2), '#f3f3f3', 1, 'grid-y-minor');
    drawText(g, String(v), 1947.5, c.y(v) + 7, 21, 'y-tick-label', {anchor: 'end', fill: '#444'});
  });
  c.points.forEach(function (v, i) {
    const p = node('circle', {cx: sx(i + 1), cy: c.y(v), r: 5.6, fill: '#a9c4e6'}, g);
    
    
  });
  const curve = node('path', {d: smoothPath(c.curve.map(function (v, i) { return [i + 1, v]; }), sx, c.y, false), fill: 'none', stroke: '#4a7cc0', 'stroke-width': 5}, g);
  
  
  const fb = node('rect', {x: 1949.8, y: c.top, width: 444.2, height: c.bottom - c.top, fill: 'none', stroke: '#858585', 'stroke-width': 2}, g);
  
  
  drawText(g, 'Cell proportion', 1909, c.yTitleY, 26, 'y-axis-title', {anchor: 'middle', rot: -90, len: 163});
  drawText(g, c.title, 2177, c.titleY, 26, 'x-axis-title', {anchor: 'middle', len: 71});
}
distPlot({name: 'anterior-posterior-plot', top: 1943.8, bottom: 2136, y: function (p) { return 2128 - (p - .2) * 376.8; }, ticks: apTicks, points: apPoints, curve: apCurve, labelY: 2156.6, yTitleY: 2039.5, title: 'A \u2192 P', titleY: 2181});
distPlot({name: 'ventral-dorsal-plot', top: 2203, bottom: 2395.8, y: function (p) { return 2350.3 - (p - .2) * 252; }, ticks: vdTicks, points: vdPoints, curve: vdCurve, labelY: 2416, yTitleY: 2298.5, title: 'V \u2192 D', titleY: 2440.5});

/* ------------------- 3D views ------------------- */
function view3d(c) {
  const g = group(c.name);
  const bg = node('rect', {x: c.x, y: 2705, width: c.w, height: 726, fill: '#000'}, g);
  
  
  const fx = function (s) { return c.x + (s - 104) / 1.285 + c.shift; };
  const fy = function (s) { return 2705 + (s - 191) / 1.815; };
  c.clouds.forEach(function (k) {
    const glow = node('path', {d: smoothPath(k.pts, fx, fy, true), fill: c.color, 'fill-opacity': k.density * .3, filter: 'url(#soft)'}, g);
    
    
    cloud(g, k.pts, fx, fy, c.dot, k.density, 'cell-cloud', 15, .62);
  });
  [lobeLeft, lobeRight, lobeCenter, lobeInner, lobeBottom, lobeBottomLeft, lobeBottomRight].forEach(function (l, i) {
    const id = c.name + '-lobe-' + i;
    const cp = node('clipPath', {id: id}, defs);
    node('path', {d: smoothPath(l, fx, fy, true)}, cp);
    const wrap = group('mesh-lobe', g);
    wrap.setAttribute('clip-path', 'url(#' + id + ')');
    const m = node('rect', {x: c.x - 60, y: 2645, width: c.w + 120, height: 846, fill: 'url(#mesh)', filter: 'url(#warp)', transform: 'translate(' + (i * 9) + ' ' + (i * 5) + ')'}, wrap);
    
    
    if (i < 3) {
      const o = node('path', {d: smoothPath(l, fx, fy, true), fill: 'none', stroke: '#8c8c8c', 'stroke-width': 1.4}, g);
      
      
    }
  });
  const cg = group('mesh-creases', g);
  cg.setAttribute('filter', 'url(#wobble)');
  creases.forEach(function (l) {
    const m = node('path', {d: smoothPath(l, fx, fy, false), fill: 'none', stroke: '#d8d8d8', 'stroke-opacity': .45, 'stroke-width': 1.9}, cg);
    
    
  });
  drawText(g, c.label, c.labelX, 2782, 40, '3d-view-label', {fill: '#fff', len: c.labelW});
}
view3d({name: 'transcriptome-3d-view', x: 81, w: 1051, shift: 0, clouds: transcriptomeClouds, color: '#2a86cc', dot: '#3f9fe0', label: 'L5_IT_1', labelX: 128, labelW: 148});
view3d({name: 'projectome-3d-view', x: 1307, w: 1053, shift: -1, clouds: projectomeClouds, color: '#3c74c8', dot: '#5291e4', label: 'CP-I', labelX: 1367.5, labelW: 79.5});
</script>
</body></html>
